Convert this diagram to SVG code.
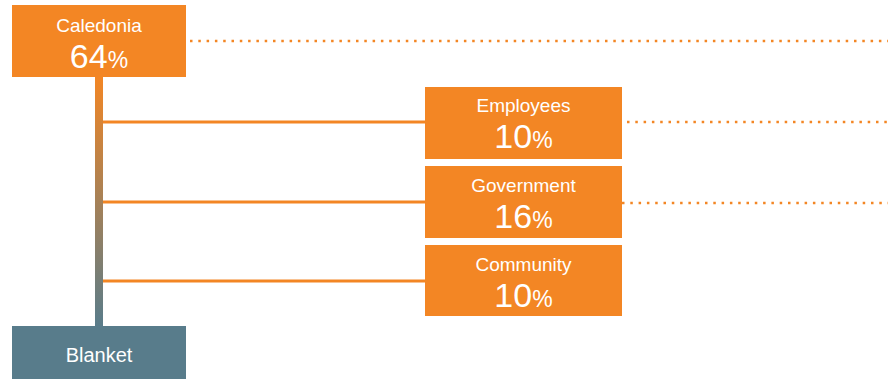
<svg xmlns="http://www.w3.org/2000/svg" width="892" height="379" viewBox="0 0 892 379">
  <defs>
    <linearGradient id="trunkGrad" x1="0" y1="0" x2="0" y2="1">
      <stop offset="0" stop-color="#F38624"/>
      <stop offset="1" stop-color="#587C8B"/>
    </linearGradient>
    <style>
      .box { fill: #F38624; }
      .base { fill: #587C8B; }
      .label { font-family: "Liberation Sans", Arial, sans-serif; fill: #FFFFFF; text-anchor: middle; }
      .name { font-size: 19px; }
      .pct { font-size: 34px; }
      .pct tspan { font-size: 23px; }
      .branch { stroke: #F38624; stroke-width: 3; fill: none; }
      .dots { stroke: #F38624; stroke-width: 2.5; fill: none; stroke-dasharray: 2.5 5.8; }
    </style>
  </defs>

  <!-- connectors -->
  <g id="connectors">
    <rect x="95" y="76" width="8" height="252" fill="url(#trunkGrad)"/>
    <line class="branch" x1="103" y1="122" x2="425" y2="122"/>
    <line class="branch" x1="103" y1="202" x2="425" y2="202"/>
    <line class="branch" x1="103" y1="281" x2="425" y2="281"/>
    <line class="dots" x1="190" y1="41" x2="888" y2="41"/>
    <line class="dots" x1="627" y1="122" x2="888" y2="122"/>
    <line class="dots" x1="622" y1="203" x2="888" y2="203"/>
  </g>

  <g id="caledonia">
    <rect class="box" x="12" y="5" width="174" height="72"/>
    <text class="label name" x="99" y="32">Caledonia</text>
    <text class="label pct" x="99" y="68">64<tspan>%</tspan></text>
  </g>

  <g id="employees">
    <rect class="box" x="425" y="87" width="197" height="72"/>
    <text class="label name" x="523.5" y="112">Employees</text>
    <text class="label pct" x="523.5" y="148">10<tspan>%</tspan></text>
  </g>

  <g id="government">
    <rect class="box" x="425" y="166" width="197" height="72"/>
    <text class="label name" x="523.5" y="192">Government</text>
    <text class="label pct" x="523.5" y="228">16<tspan>%</tspan></text>
  </g>

  <g id="community">
    <rect class="box" x="425" y="245" width="197" height="71"/>
    <text class="label name" x="523.5" y="271">Community</text>
    <text class="label pct" x="523.5" y="307">10<tspan>%</tspan></text>
  </g>

  <g id="blanket">
    <rect class="base" x="12" y="326" width="174" height="53"/>
    <text class="label" x="99" y="362" font-size="20">Blanket</text>
  </g>
</svg>
